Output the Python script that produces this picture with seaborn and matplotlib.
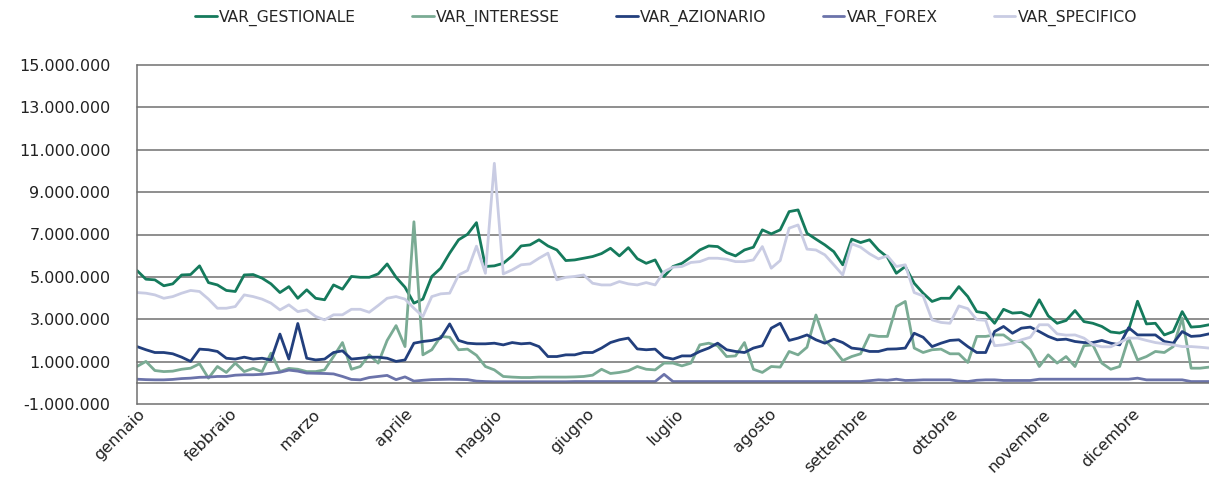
import numpy as np
import pandas as pd
import seaborn as sns
import matplotlib
matplotlib.use('Agg')
import matplotlib.pyplot as plt
from matplotlib.ticker import FuncFormatter

# one observation every 3 days, values in millions
date = pd.date_range('2013-01-01', '2013-12-27', freq='3D')

var_gestionale = [
    5.30, 4.89, 4.86, 4.58, 4.67, 5.09, 5.11, 5.52, 4.73, 4.62, 4.36, 4.31, 5.09, 5.11, 4.94, 4.67,
    4.26, 4.54, 3.99, 4.39, 3.99, 3.92, 4.62, 4.42, 5.02,
    4.98, 4.98, 5.14, 5.61, 4.98, 4.51, 3.76, 3.95, 5.02, 5.41, 6.12, 6.75, 7.01, 7.56, 5.49, 5.52,
    5.64, 5.99, 6.46, 6.51, 6.75, 6.46, 6.27, 5.77,
    5.80, 5.88, 5.96, 6.10, 6.35, 5.99, 6.38, 5.86, 5.64, 5.80, 5.02, 5.49, 5.64, 5.93, 6.27, 6.46,
    6.43, 6.15, 5.99, 6.27, 6.40, 7.22, 7.03, 7.22,
    8.08, 8.16, 7.06, 6.78, 6.51, 6.19, 5.57, 6.78, 6.62, 6.75, 6.27, 5.93, 5.17, 5.49, 4.70, 4.23,
    3.84, 3.99, 3.99, 4.54, 4.07, 3.36, 3.29, 2.81,
    3.47, 3.29, 3.32, 3.13, 3.92, 3.16, 2.81, 2.94, 3.41, 2.89, 2.81, 2.66, 2.40, 2.35, 2.50, 3.85,
    2.78, 2.81, 2.26, 2.42, 3.36, 2.63, 2.66, 2.74,
]
var_interesse = [
    0.77, 1.01, 0.58, 0.53, 0.55, 0.64, 0.69, 0.90, 0.22, 0.77, 0.49, 0.93, 0.53, 0.68, 0.53, 1.40,
    0.53, 0.68, 0.64, 0.53, 0.53, 0.61, 1.24, 1.90, 0.64,
    0.77, 1.32, 0.93, 2.00, 2.70, 1.71, 7.60, 1.32, 1.56, 2.19, 2.15, 1.56, 1.59, 1.30, 0.77, 0.61,
    0.30, 0.27, 0.25, 0.25, 0.27, 0.27, 0.27, 0.27,
    0.28, 0.30, 0.36, 0.64, 0.44, 0.49, 0.57, 0.77, 0.64, 0.61, 0.93, 0.93, 0.80, 0.93, 1.79, 1.87,
    1.75, 1.24, 1.27, 1.90, 0.64, 0.49, 0.77, 0.74,
    1.48, 1.32, 1.68, 3.20, 2.00, 1.59, 1.05, 1.24, 1.37, 2.26, 2.19, 2.19, 3.60, 3.84, 1.64, 1.43,
    1.56, 1.59, 1.37, 1.37, 0.96, 2.19, 2.19, 2.26,
    2.26, 1.95, 1.95, 1.56, 0.77, 1.32, 0.93, 1.24, 0.77, 1.75, 1.79, 0.93, 0.64, 0.77, 2.11, 1.08,
    1.24, 1.48, 1.43, 1.71, 3.05, 0.69, 0.69, 0.74,
]
var_azionario = [
    1.71, 1.56, 1.43, 1.43, 1.37, 1.21, 1.01, 1.59, 1.56, 1.48, 1.16, 1.12, 1.21, 1.12, 1.16, 1.08,
    2.30, 1.12, 2.80, 1.16, 1.08, 1.12, 1.43, 1.51, 1.12,
    1.16, 1.21, 1.21, 1.16, 1.01, 1.08, 1.87, 1.95, 2.00, 2.11, 2.78, 2.00, 1.87, 1.84, 1.84, 1.87,
    1.79, 1.90, 1.84, 1.87, 1.71, 1.24, 1.24, 1.32,
    1.32, 1.43, 1.43, 1.64, 1.90, 2.03, 2.11, 1.60, 1.56, 1.59, 1.21, 1.12, 1.27, 1.27, 1.48, 1.64,
    1.87, 1.56, 1.48, 1.43, 1.64, 1.75, 2.58, 2.81,
    2.00, 2.11, 2.26, 2.03, 1.87, 2.06, 1.90, 1.64, 1.59, 1.48, 1.48, 1.59, 1.60, 1.64, 2.34, 2.15,
    1.71, 1.87, 2.00, 2.03, 1.71, 1.43, 1.43, 2.42,
    2.66, 2.34, 2.58, 2.63, 2.42, 2.19, 2.03, 2.06, 1.95, 1.90, 1.90, 2.00, 1.87, 1.79, 2.60, 2.26,
    2.26, 2.26, 1.95, 1.87, 2.42, 2.19, 2.22, 2.31,
]
var_forex = [
    0.17, 0.15, 0.14, 0.14, 0.16, 0.20, 0.22, 0.26, 0.27, 0.30, 0.30, 0.36, 0.38, 0.38, 0.40, 0.45,
    0.50, 0.60, 0.55, 0.46, 0.45, 0.44, 0.42, 0.30, 0.16,
    0.14, 0.25, 0.30, 0.35, 0.15, 0.28, 0.08, 0.12, 0.15, 0.16, 0.17, 0.16, 0.15, 0.08, 0.06, 0.05,
    0.05, 0.05, 0.05, 0.05, 0.05, 0.05, 0.05, 0.05,
    0.06, 0.06, 0.06, 0.06, 0.06, 0.06, 0.06, 0.06, 0.06, 0.06, 0.40, 0.06, 0.06, 0.06, 0.06, 0.06,
    0.06, 0.06, 0.06, 0.06, 0.06, 0.06, 0.06, 0.06,
    0.06, 0.06, 0.06, 0.06, 0.06, 0.06, 0.06, 0.06, 0.06, 0.10, 0.14, 0.12, 0.17, 0.11, 0.12, 0.14,
    0.14, 0.14, 0.14, 0.08, 0.06, 0.12, 0.14, 0.14,
    0.11, 0.11, 0.11, 0.11, 0.17, 0.17, 0.17, 0.17, 0.17, 0.17, 0.17, 0.17, 0.17, 0.17, 0.17, 0.22,
    0.14, 0.14, 0.14, 0.14, 0.14, 0.06, 0.06, 0.06,
]
var_specifico = [
    4.26, 4.23, 4.15, 3.99, 4.07, 4.23, 4.36, 4.31, 3.95, 3.52, 3.52, 3.60, 4.15, 4.07, 3.95, 3.76,
    3.44, 3.68, 3.36, 3.44, 3.13, 2.97, 3.21, 3.21, 3.47,
    3.47, 3.33, 3.65, 3.99, 4.07, 3.95, 3.52, 3.13, 4.07, 4.20, 4.23, 5.09, 5.30, 6.45, 5.17, 10.36,
    5.14, 5.33, 5.57, 5.61, 5.88, 6.12, 4.86, 4.98,
    5.02, 5.09, 4.70, 4.62, 4.62, 4.78, 4.67, 4.62, 4.73, 4.62, 5.25, 5.46, 5.49, 5.68, 5.72, 5.88,
    5.88, 5.83, 5.72, 5.72, 5.80, 6.43, 5.41, 5.77,
    7.30, 7.45, 6.31, 6.27, 6.04, 5.57, 5.09, 6.56, 6.40, 6.09, 5.85, 5.99, 5.49, 5.57, 4.26, 4.10,
    2.97, 2.85, 2.81, 3.63, 3.50, 2.98, 2.95, 1.75,
    1.79, 1.87, 2.03, 2.15, 2.74, 2.74, 2.31, 2.25, 2.26, 2.11, 1.80, 1.70, 1.70, 1.90, 2.11, 2.11,
    2.00, 1.90, 1.84, 1.79, 1.71, 1.71, 1.68, 1.64,
]

serie = ['VAR_GESTIONALE', 'VAR_INTERESSE', 'VAR_AZIONARIO', 'VAR_FOREX', 'VAR_SPECIFICO']
colori = ['#157a5c', '#7aab94', '#223f7d', '#6b73aa', '#c9cce3']
mesi = ['gennaio', 'febbraio', 'marzo', 'aprile', 'maggio', 'giugno',
        'luglio', 'agosto', 'settembre', 'ottobre', 'novembre', 'dicembre']

df = pd.DataFrame({'data': date})
for nome, valori in zip(serie, [var_gestionale, var_interesse, var_azionario, var_forex, var_specifico]):
    df[nome] = np.array(valori) * 1e6
df_long = df.melt(id_vars='data', var_name='serie', value_name='valore')

sns.set_style('white')
plt.rcParams['font.family'] = ['DejaVu Sans']

fig = plt.figure(figsize=(12.09, 4.79), dpi=100)
ax = fig.add_axes([137 / 1209, 1 - 404 / 479, 1 - 137 / 1209, (404 - 65) / 479])

sns.lineplot(data=df_long, x='data', y='valore', hue='serie', hue_order=serie,
             palette=dict(zip(serie, colori)), linewidth=2.0, legend=False, ax=ax)

grid_col = '#707070'

# spines first: moving a spine resets the ticks
for s in ['top', 'right']:
    ax.spines[s].set_visible(False)
ax.spines['bottom'].set_position(('data', 0))
ax.spines['bottom'].set_color(grid_col)
ax.spines['left'].set_color(grid_col)
ax.spines['bottom'].set_linewidth(1.1)
ax.spines['left'].set_linewidth(1.1)

ax.set_ylim(-1e6, 15e6)
ax.set_yticks(np.arange(-1e6, 15.1e6, 2e6))
ax.yaxis.set_major_formatter(FuncFormatter(lambda v, p: f'{v:,.0f}'.replace(',', '.')))
ax.yaxis.grid(True, color=grid_col, linewidth=1.1)
for gl in ax.get_ygridlines():
    gl.set_clip_on(False)
ax.set_axisbelow(True)

mesi_pos = pd.date_range('2013-01-01', periods=12, freq='MS')
ax.set_xlim(date[0], date[-1])
ax.set_xticks(mesi_pos)
ax.set_xticklabels(mesi)

ax.tick_params(axis='x', direction='out', length=6, width=1.1, color=grid_col, pad=11,
               labelsize=11.5, labelcolor='#222222')
ax.tick_params(axis='y', direction='out', length=8, width=1.1, color=grid_col, pad=11,
               labelsize=11.5, labelcolor='#222222')
plt.setp(ax.get_xticklabels(), rotation=45, ha='right', rotation_mode='anchor')
ax.set_xlabel('')
ax.set_ylabel('')

handles = ax.get_lines()[:5]
fig.legend(handles, serie, loc='center', bbox_to_anchor=(666 / 1209, 1 - 18 / 479), ncol=5,
           frameon=False, handlelength=1.4, handletextpad=0.15, columnspacing=3.6,
           prop={'family': 'DejaVu Sans', 'size': 11.2})

fig.savefig('out.png', dpi=100)
